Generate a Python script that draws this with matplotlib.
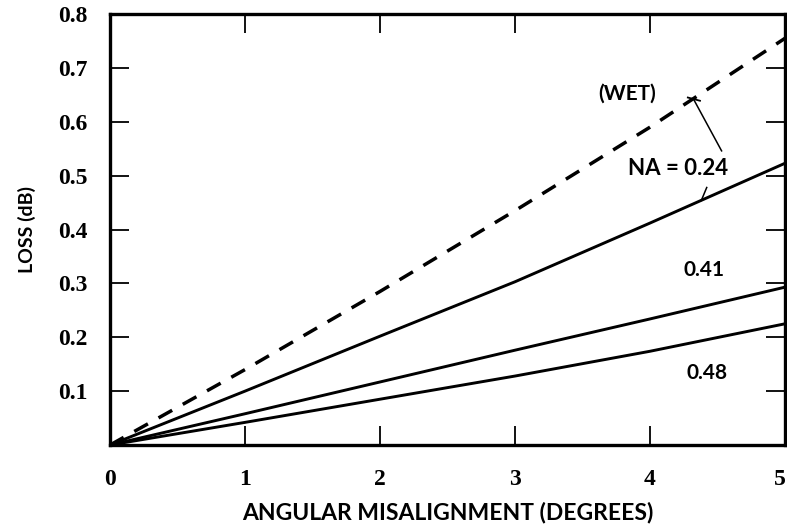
import matplotlib
matplotlib.use('Agg')
import matplotlib.pyplot as plt
from matplotlib.transforms import ScaledTranslation

# angle (degrees) and loss (dB)
angle = [0, 1, 2, 3, 4, 5]
loss_wet = [0, 0.14, 0.285, 0.435, 0.59, 0.755]
loss_024 = [0, 0.10, 0.202, 0.303, 0.412, 0.523]
loss_041 = [0, 0.058, 0.117, 0.176, 0.234, 0.293]
loss_048 = [0, 0.042, 0.085, 0.128, 0.174, 0.225]

x_ticks = [0, 1, 2, 3, 4, 5]
y_ticks = [0.1, 0.2, 0.3, 0.4, 0.5, 0.6, 0.7, 0.8]

label_font = 'Lato'
tick_font = 'Liberation Serif'

fig = plt.figure(figsize=(7.87, 5.27), dpi=100)
ax = fig.add_axes([0.1398, 0.1556, 0.8577, 0.8178])

ax.plot(angle, loss_wet, color='black', lw=2.5, linestyle=(0, (4.5, 3.5)))
ax.plot(angle, loss_024, color='black', lw=2.1)
ax.plot(angle, loss_041, color='black', lw=2.1)
ax.plot(angle, loss_048, color='black', lw=2.1)

ax.set_xlim(0, 5)
ax.set_ylim(0, 0.8)
ax.set_xticks(x_ticks)
ax.set_yticks(y_ticks)
ax.set_xticklabels([str(t) for t in x_ticks])
ax.set_yticklabels([f'{t:.1f}' for t in y_ticks])

ax.tick_params(direction='in', length=14, width=1.3, top=True, right=True)
ax.tick_params(axis='x', pad=17)
ax.tick_params(axis='y', pad=16)
for lab in ax.get_xticklabels() + ax.get_yticklabels():
    lab.set_fontfamily(tick_font)
    lab.set_fontweight('bold')
    lab.set_fontsize(17)

# the last x label sits on the figure edge; nudge it in a little
last = ax.get_xticklabels()[-1]
last.set_transform(last.get_transform() + ScaledTranslation(-5 / 100, 0, fig.dpi_scale_trans))

for side in ax.spines:
    ax.spines[side].set_linewidth(2.4)

ax.set_xlabel('ANGULAR MISALIGNMENT (DEGREES)', family=label_font,
              fontweight='bold', fontsize=16.5, labelpad=9)
ax.set_ylabel('LOSS (dB)', family=label_font, fontweight='bold',
              fontsize=14, labelpad=16)

ax.text(3.83, 0.652, '(WET)', family=label_font, fontweight='bold',
        fontsize=15, ha='center', va='center')
ax.text(4.21, 0.513, 'NA = 0.24', family=label_font, fontweight='bold',
        fontsize=16, ha='center', va='center')
ax.text(4.40, 0.324, '0.41', family=label_font, fontweight='bold',
        fontsize=15, ha='center', va='center')
ax.text(4.42, 0.133, '0.48', family=label_font, fontweight='bold',
        fontsize=15, ha='center', va='center')

# leader lines pointing at the curves
ax.plot([4.32, 4.53], [0.643, 0.546], color='black', lw=1.1)
ax.plot([4.28, 4.37], [0.645, 0.639], color='black', lw=1.3)
ax.plot([4.42, 4.38], [0.478, 0.454], color='black', lw=1.1)

fig.savefig('out.png', dpi=100)
